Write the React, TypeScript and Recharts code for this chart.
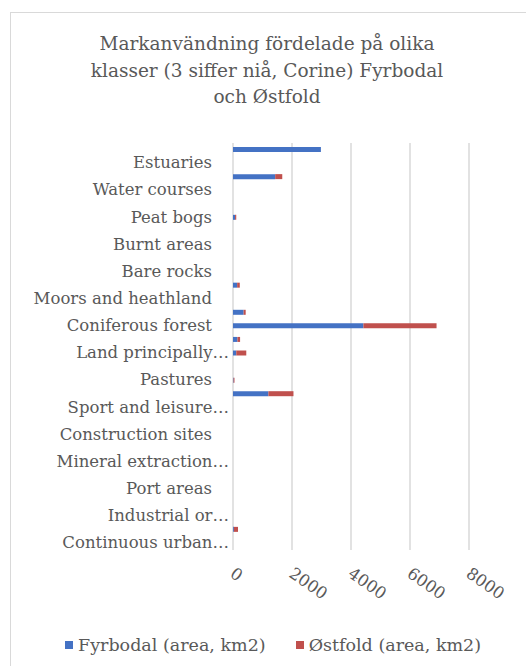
import { BarChart, Bar, XAxis, YAxis, CartesianGrid } from 'recharts';

// CORINE level-3 classes, top of chart first
const categories = [
  'Sea and ocean',
  'Estuaries',
  'Water bodies',
  'Water courses',
  'Salt marshes',
  'Peat bogs',
  'Inland marshes',
  'Burnt areas',
  'Sparsely vegetated areas',
  'Bare rocks',
  'Transitional woodland-shrub',
  'Moors and heathland',
  'Mixed forest',
  'Coniferous forest',
  'Broad-leaved forest',
  'Land principally occupied by agriculture',
  'Complex cultivation patterns',
  'Pastures',
  'Non-irrigated arable land',
  'Sport and leisure facilities',
  'Green urban areas',
  'Construction sites',
  'Dump sites',
  'Mineral extraction sites',
  'Airports',
  'Port areas',
  'Road and rail networks',
  'Industrial or commercial units',
  'Discontinuous urban fabric',
  'Continuous urban fabric',
];

// Excel only shows every other label
const tickLabels = [
  '', 'Estuaries', '', 'Water courses', '', 'Peat bogs', '', 'Burnt areas', '', 'Bare rocks',
  '', 'Moors and heathland', '', 'Coniferous forest', '', 'Land principally…', '', 'Pastures', '', 'Sport and leisure…',
  '', 'Construction sites', '', 'Mineral extraction…', '', 'Port areas', '', 'Industrial or…', '', 'Continuous urban…',
];

const fyrbodal = [2980, 0, 1430, 0, 0, 70, 0, 0, 0, 0, 140, 0, 360, 4420, 150, 110, 0, 20, 1200, 0, 0, 0, 0, 0, 0, 0, 0, 0, 30, 0];
const ostfold = [0, 0, 240, 0, 0, 40, 0, 0, 0, 0, 90, 0, 70, 2480, 90, 340, 0, 30, 850, 0, 0, 0, 0, 0, 0, 0, 0, 0, 140, 0];

const xTicks = [0, 2000, 4000, 6000, 8000];

const seriesNames = ['Fyrbodal (area, km2)', 'Østfold (area, km2)'];
const BLUE = '#4472C4';
const RED = '#C0504D';
const TEXT = '#595959';
const FONT = "'DejaVu Serif', serif";

const data = categories.map((name, i) => ({ name, fyrbodal: fyrbodal[i], ostfold: ostfold[i] }));

const CategoryTick = (props: any) => {
  const { x, y, index } = props;
  const label = tickLabels[index];
  if (!label) return null;
  const truncated = label.endsWith('…');
  return (
    <text x={truncated ? x + 4 : x - 13} y={y} dy={5} textAnchor="end" fill={TEXT} fontSize={16.5} fontFamily={FONT}>
      {label}
    </text>
  );
};

const ValueTick = (props: any) => {
  const { x, y, payload } = props;
  const tx = x - 4;
  const ty = y + 18;
  return (
    <text x={tx} y={ty} transform={`rotate(35, ${tx}, ${ty})`} textAnchor="start" fill={TEXT} fontSize={16.5} fontFamily={FONT}>
      {payload.value}
    </text>
  );
};

export default function App() {
  return (
    <div style={{ position: 'absolute', left: 0, top: 0, width: 526, height: 666, background: '#fff', fontFamily: FONT, overflow: 'hidden' }}>
      <div style={{ position: 'absolute', left: 10, top: 12, width: 530, height: 670, border: '1px solid #d9d9d9', boxSizing: 'border-box' }} />
      <div
        style={{
          position: 'absolute', left: 80, top: 31, width: 374, textAlign: 'center',
          fontSize: 18.5, lineHeight: '26.5px', color: TEXT,
        }}
      >
        Markanvändning fördelade på olika klasser (3 siffer niå, Corine) Fyrbodal och Østfold
      </div>
      <BarChart
        width={526}
        height={666}
        data={data}
        layout="vertical"
        barSize={5}
        margin={{ top: 143, right: 57, bottom: 86, left: 0 }}
        style={{ position: 'absolute', left: 0, top: 0 }}
      >
        <CartesianGrid horizontal={false} stroke="#d9d9d9" strokeWidth={1.5} />
        <XAxis
          type="number"
          domain={[0, 8000]}
          ticks={xTicks}
          height={30}
          axisLine={false}
          tickLine={false}
          interval={0}
          tick={<ValueTick />}
        />
        <YAxis
          type="category"
          dataKey="name"
          width={233}
          interval={0}
          axisLine={false}
          tickLine={false}
          tick={<CategoryTick />}
        />
        <Bar dataKey="fyrbodal" stackId="a" fill={BLUE} isAnimationActive={false} />
        <Bar dataKey="ostfold" stackId="a" fill={RED} isAnimationActive={false} />
      </BarChart>
      <div style={{ position: 'absolute', left: 65, top: 635, display: 'flex', alignItems: 'center', fontSize: 17.5, color: TEXT, whiteSpace: 'nowrap' }}>
        <span style={{ width: 8, height: 8, background: BLUE, marginRight: 5, display: 'inline-block' }} />
        <span style={{ marginRight: 30 }}>{seriesNames[0]}</span>
        <span style={{ width: 8, height: 8, background: RED, marginRight: 5, display: 'inline-block' }} />
        <span>{seriesNames[1]}</span>
      </div>
    </div>
  );
}
